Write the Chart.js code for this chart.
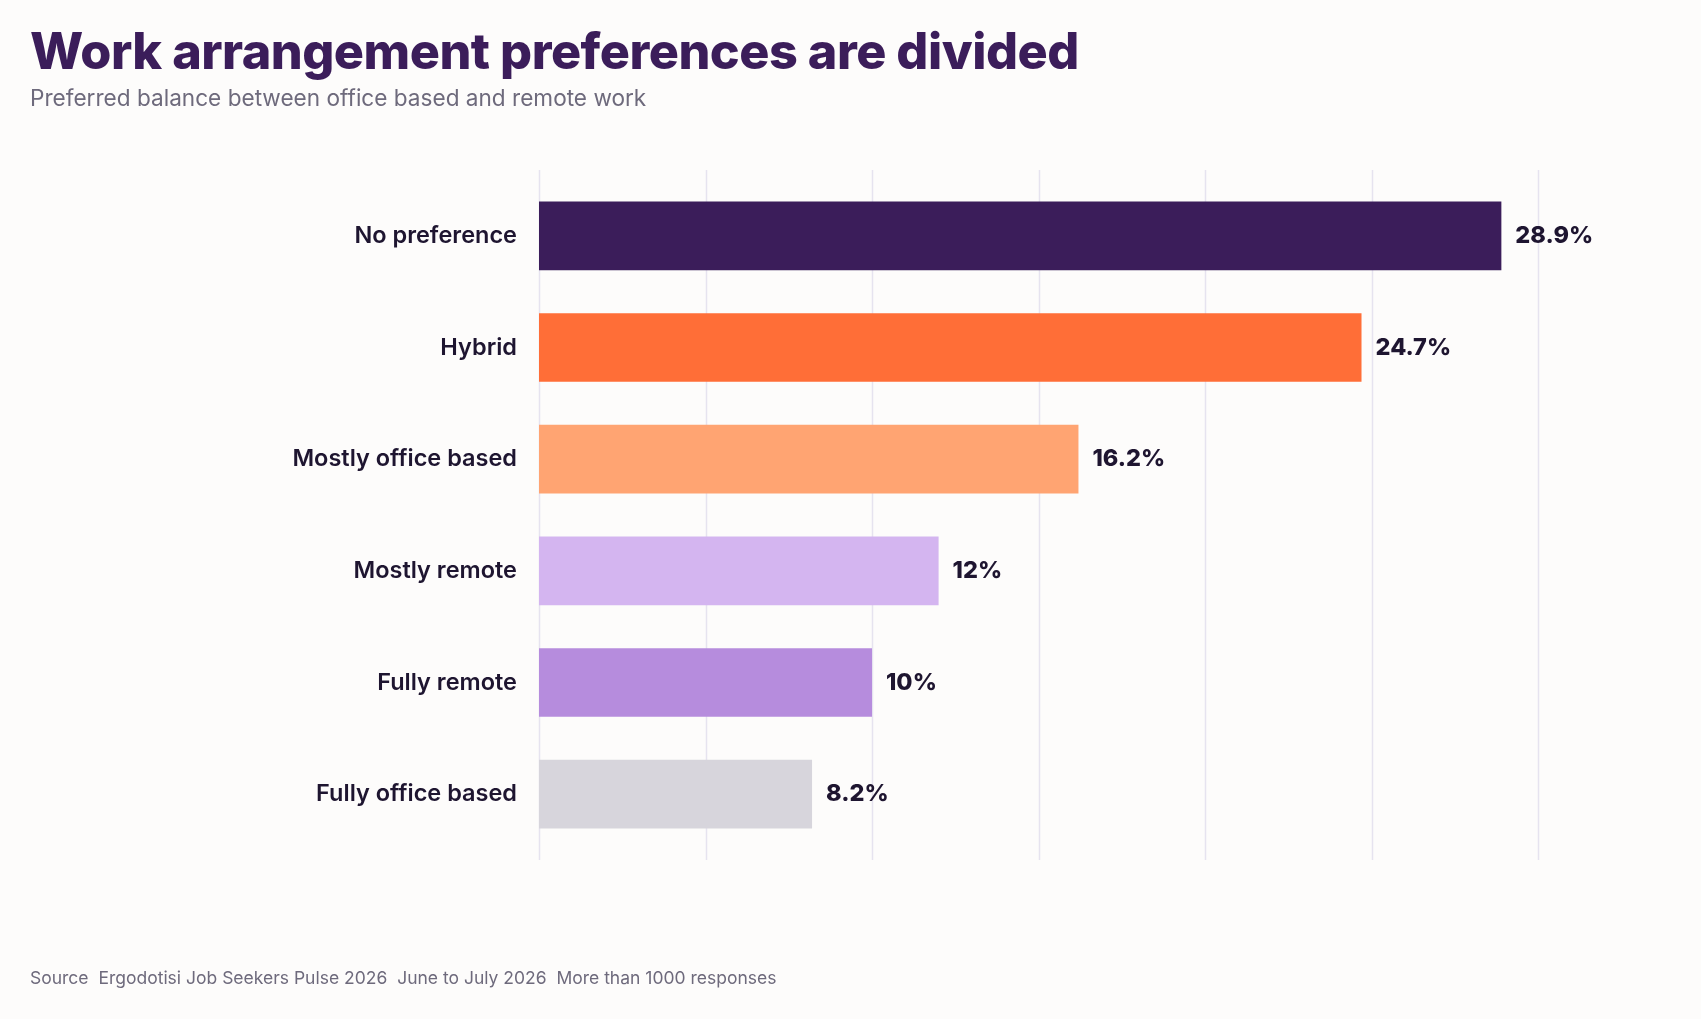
<!DOCTYPE html>
<html><head><meta charset="utf-8">
<script src="https://cdn.jsdelivr.net/npm/chart.js@4"></script>
<style>
html,body{margin:0;padding:0;background:#fdfcfb;width:1701px;height:1019px;overflow:hidden;font-family:Inter,sans-serif}
#t{position:absolute;left:30px;top:20px;font-size:50.3px;font-weight:800;color:#3b1d5a;letter-spacing:-0.5px}
#s{position:absolute;left:30px;top:84px;font-size:22.6px;color:#6e6a7c}
#src{position:absolute;left:30px;top:967px;font-size:17.5px;color:#6e6a7c;white-space:pre}
#w{position:absolute;left:0;top:0;width:1701px;height:1019px}
</style></head><body>
<div id="w"><canvas id="c"></canvas></div>
<div id="t">Work arrangement preferences are divided</div>
<div id="s">Preferred balance between office based and remote work</div>
<div id="src">Source  Ergodotisi Job Seekers Pulse 2026  June to July 2026  More than 1000 responses</div>
<script>
const categories=["No preference","Hybrid","Mostly office based","Mostly remote","Fully remote","Fully office based"];
const values=[28.9,24.7,16.2,12,10,8.2];
const valueLabels=["28.9%","24.7%","16.2%","12%","10%","8.2%"];
const colors=["#3b1d5a","#ff6e37","#ffa472","#d4b5f0","#b68cdd","#d7d5dc"];
const gridTicks=[0,5,10,15,20,25,30];
const grid={id:'grid',beforeDatasetsDraw(ch){const c=ch.ctx,x=ch.scales.x;c.save();c.strokeStyle='#e6e3ef';c.lineWidth=1.5;
gridTicks.forEach(v=>{const px=Math.round(x.getPixelForValue(v))+0.5;c.beginPath();c.moveTo(px,170);c.lineTo(px,860);c.stroke();});c.restore();}};
const lbl={id:'lbl',afterDatasetsDraw(ch){const c=ch.ctx;c.save();c.font='800 23.5px Inter';c.fillStyle='#1e1530';c.textBaseline='middle';
ch.getDatasetMeta(0).data.forEach((b,i)=>c.fillText(valueLabels[i],b.x+14,b.y));c.restore();}};
new Chart(document.getElementById('c'),{type:'bar',
data:{labels:categories,datasets:[{data:values,backgroundColor:colors,categoryPercentage:1,barPercentage:0.615}]},
options:{indexAxis:'y',responsive:true,maintainAspectRatio:false,animation:false,
layout:{padding:{left:0,top:180,bottom:161,right:163}},
plugins:{legend:{display:false},tooltip:{enabled:false}},
scales:{x:{min:0,max:30,ticks:{display:false,stepSize:5},grid:{display:false},border:{display:false}},
y:{afterFit(s){s.width=539;},grid:{display:false},border:{display:false},ticks:{padding:14,color:'#1e1530',font:{family:'Inter',size:23.5,weight:'600'}}}}},
plugins:[grid,lbl]});
</script></body></html>
